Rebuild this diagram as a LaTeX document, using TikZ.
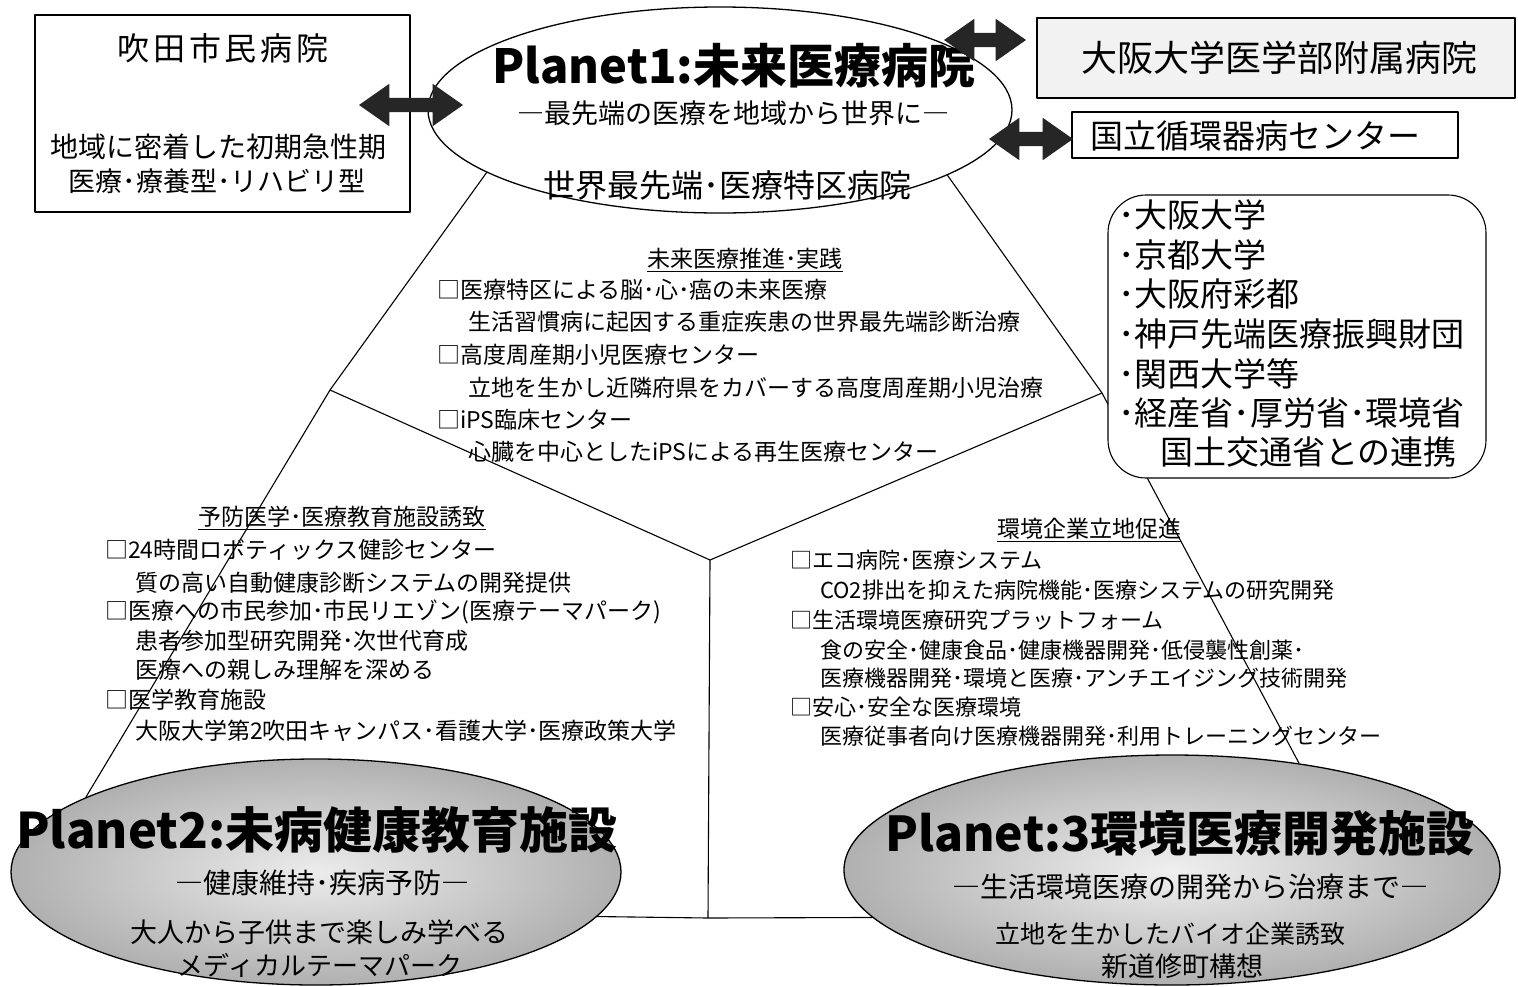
\documentclass[tikz,border=0pt]{standalone}
\usepackage{fontspec}
\setmainfont{Noto Sans CJK JP}
\usetikzlibrary{shapes.geometric,shapes.arrows}
\pgfdeclarelayer{bg}
\pgfsetlayers{bg,main}
\tikzset{
  thinline/.style={line width=1.1pt},
  fs/.style={font={\fontsize{#1}{#1}\selectfont}},
  fsb/.style={font={\fontsize{#1}{#1}\selectfont\bfseries}},
  txt/.style={inner sep=0},
  lt/.style={txt, anchor=west},
  planet/.style={ellipse, draw, line width=1.3pt, inner sep=0},
  darr/.style={double arrow, fill=black!85, inner xsep=0pt, inner ysep=7pt, double arrow head extend=14pt, double arrow tip angle=70},
}
\begin{document}
\begin{tikzpicture}[x=1pt,y=-1pt,line join=round]
\useasboundingbox (0,0) rectangle (1518,986);

% planets
\node[planet, fill=white, minimum width=584, minimum height=206] (p1) at (720,110) {};
\node[planet, inner color=gray!15, outer color=gray!62, minimum width=610, minimum height=226] (p2) at (316,872) {};
\node[planet, inner color=gray!12, outer color=gray!62, minimum width=656, minimum height=230] (p3) at (1172,870) {};

% junctions
\coordinate (jl) at (330,390);
\coordinate (jr) at (1102,393);
\coordinate (jc) at (710,560);
\coordinate (jb) at (708,918);

\begin{pgfonlayer}{bg}
\draw[thinline] (p1.195) -- (jl) -- (p2.162);
\draw[thinline] (p1.344) -- (jr) -- (p3.40);
\draw[thinline] (jl) -- (jc) -- (jr);
\draw[thinline] (jc) -- (jb);
\draw[thinline] (p2.351) -- (jb) -- (p3.189);
\end{pgfonlayer}

% left box
\node[draw, thinline, fill=white, minimum width=375, minimum height=197, inner sep=0] (lb) at (222.5,113.5) {};
\node[txt, font={\fontsize{32}{32}\selectfont\addfontfeature{LetterSpace=12}}] (lb1) at (223,48) {吹田市民病院};
\node[txt, fs=28] (lb2) at (218,147) {地域に密着した初期急性期};
\node[txt, fs=27] (lb3) at (217,181) {医療･療養型･リハビリ型};

% right boxes
\node[draw, thinline, fill=gray!10, minimum width=478, minimum height=80, inner sep=0] (ob) at (1276,58) {};
\node[txt, fs=36] (obt) at (1279,58) {大阪大学医学部附属病院};
\node[draw, thinline, fill=white, minimum width=386, minimum height=46, inner sep=0] (nb) at (1265,135) {};
\node[txt, fs=33] (nbt) at (1255,136) {国立循環器病センター};

\node[draw, thinline, fill=white, rounded corners=38pt, minimum width=378, minimum height=283, inner sep=0] (rb) at (1297,336.5) {};
\node[lt, fs=33] (r1) at (1118,215) {･大阪大学};
\node[lt, fs=33] (r2) at (1118,255) {･京都大学};
\node[lt, fs=33] (r3) at (1118,294) {･大阪府彩都};
\node[lt, fs=33] (r4) at (1118,334) {･神戸先端医療振興財団};
\node[lt, fs=33] (r5) at (1118,374) {･関西大学等};
\node[lt, fs=33] (r6) at (1118,413) {･経産省･厚労省･環境省};
\node[lt, fs=33] (r7) at (1160,452) {国土交通省との連携};

% planet 1 text
\node[txt, fsb=47] (p1t) at (734,66) {Planet1:未来医療病院};
\node[txt, fs=27] (p1s) at (733,113) {―最先端の医療を地域から世界に―};
\node[txt, fs=32] (p1c) at (727,185) {世界最先端･医療特区病院};

% center block
\node[txt, fs=23] (c0) at (745,260) {\underline{未来医療推進･実践}};
\node[lt, fs=23] (c1) at (437,290) {□医療特区による脳･心･癌の未来医療};
\node[lt, fs=23] (c2) at (468,322) {生活習慣病に起因する重症疾患の世界最先端診断治療};
\node[lt, fs=23] (c3) at (437,355) {□高度周産期小児医療センター};
\node[lt, fs=23] (c4) at (468,388) {立地を生かし近隣府県をカバーする高度周産期小児治療};
\node[lt, fs=23] (c5) at (437,420) {□iPS臨床センター};
\node[lt, fs=23] (c6) at (468,452) {心臓を中心としたiPSによる再生医療センター};

% left block
\node[txt, fs=23] (l0) at (342,518) {\underline{予防医学･医療教育施設誘致}};
\node[lt, fs=23] (l1) at (105,550) {□24時間ロボティックス健診センター};
\node[lt, fs=23] (l2) at (135,583) {質の高い自動健康診断システムの開発提供};
\node[lt, fs=23] (l3) at (105,612) {□医療への市民参加･市民リエゾン(医療テーマパーク)};
\node[lt, fs=23] (l4) at (135,641) {患者参加型研究開発･次世代育成};
\node[lt, fs=23] (l5) at (135,670) {医療への親しみ理解を深める};
\node[lt, fs=23] (l6) at (105,700) {□医学教育施設};
\node[lt, fs=23] (l7) at (135,731) {大阪大学第2吹田キャンパス･看護大学･医療政策大学};

% right block
\node[txt, fs=23] (q0) at (1089,530) {\underline{環境企業立地促進}};
\node[lt, fs=22] (q1) at (790,560) {□エコ病院･医療システム};
\node[lt, fs=22] (q2) at (820,590) {CO2排出を抑えた病院機能･医療システムの研究開発};
\node[lt, fs=22] (q3) at (790,620) {□生活環境医療研究プラットフォーム};
\node[lt, fs=22] (q4) at (820,650) {食の安全･健康食品･健康機器開発･低侵襲性創薬･};
\node[lt, fs=22] (q5) at (820,678) {医療機器開発･環境と医療･アンチエイジング技術開発};
\node[lt, fs=22] (q6) at (790,707) {□安心･安全な医療環境};
\node[lt, fs=22] (q7) at (820,736) {医療従事者向け医療機器開発･利用トレーニングセンター};

% planet 2 text
\node[txt, fsb=49] (p2t) at (317,830) {Planet2:未病健康教育施設};
\node[txt, fs=28] (p2s) at (322,883) {―健康維持･疾病予防―};
\node[txt, fs=27] (p2a) at (319,932) {大人から子供まで楽しみ学べる};
\node[txt, fs=26] (p2b) at (320,965) {メディカルテーマパーク};

% planet 3 text
\node[txt, fsb=48] (p3t) at (1180,833) {Planet:3環境医療開発施設};
\node[txt, fs=28] (p3s) at (1190,887) {―生活環境医療の開発から治療まで―};
\node[txt, fs=25] (p3a) at (1170,934) {立地を生かしたバイオ企業誘致};
\node[txt, fs=27] (p3b) at (1182,966) {新道修町構想};

% double arrows
\node[darr, minimum height=104] (a1) at (411,105) {};
\node[darr, minimum height=82] (a2) at (985,40) {};
\node[darr, minimum height=84] (a3) at (1031,139) {};
\end{tikzpicture}
\end{document}
